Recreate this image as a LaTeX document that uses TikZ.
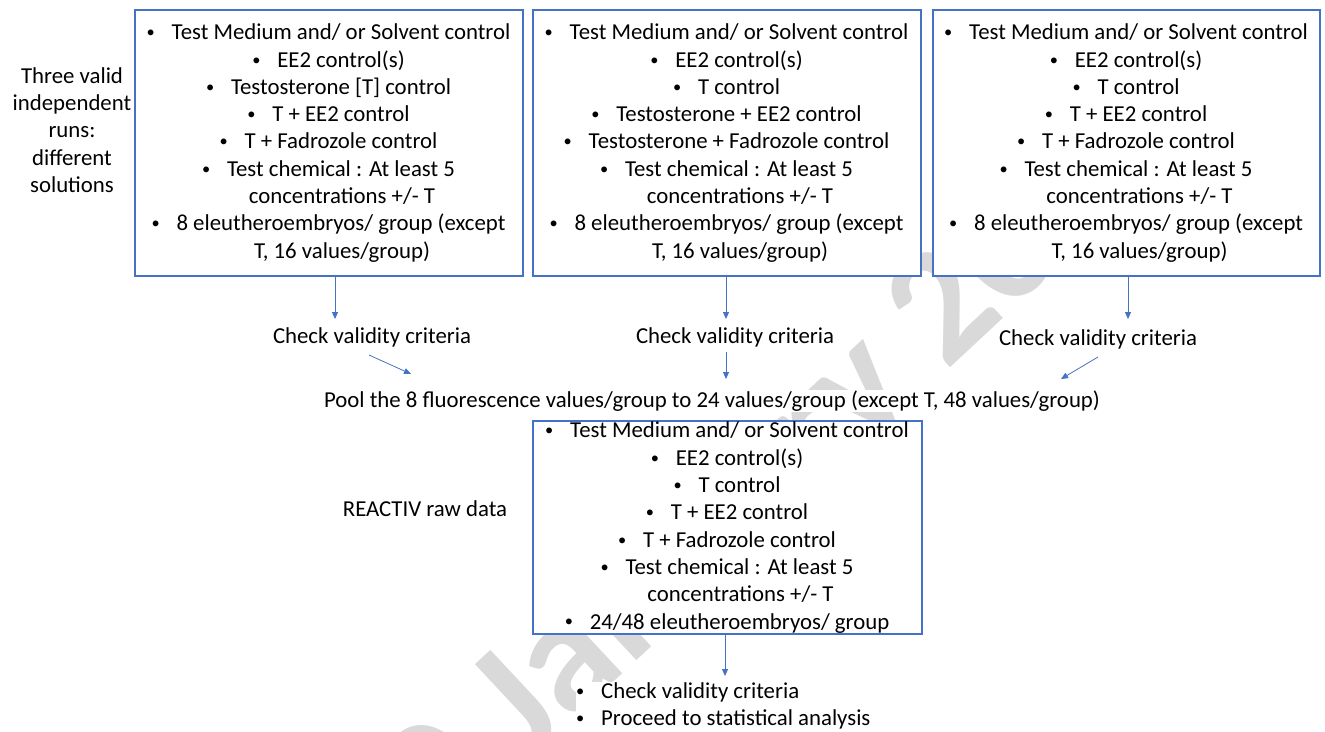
\documentclass[tikz,border=0pt]{standalone}
\usepackage{fontspec}
\setmainfont{Carlito}
\usetikzlibrary{arrows.meta}
\definecolor{boxblue}{RGB}{68,114,196}
\definecolor{wmgray}{RGB}{217,217,217}
\newcommand{\mainsz}{\fontsize{22.8bp}{27.3bp}\selectfont}
\newcommand{\bl}[1]{\makebox[24bp][l]{\hspace{-1bp}\raisebox{0.09em}{\scalebox{0.72}{\textbullet}}}#1}
\newcommand{\ct}[1]{\hspace*{26bp}#1}
\tikzset{
  runbox/.style={draw=boxblue, line width=1.2bp, fill=white, inner sep=0pt, align=center, font=\mainsz},
  conn/.style={draw=boxblue, line width=0.8bp, -{Triangle[length=7bp,width=6bp]}},
  lbl/.style={fill=white, inner sep=1bp, font=\mainsz, align=center},
  wmark/.style={text=wmgray, font=\bfseries\fontsize{165bp}{165bp}\selectfont, inner sep=0pt, rotate=43, anchor=base west}
}
\begin{document}
\begin{tikzpicture}[x=1bp,y=-1bp]
\useasboundingbox (0,0) rectangle (1325,731);
\clip (0,0) rectangle (1325,731);
% watermark
\node[wmark] (wm) at (380,900) {30 January 2020};
% top boxes
\node[runbox, minimum width=388bp, minimum height=266bp] (box1) at (329,143) {%
\bl{Test Medium and/ or Solvent control}\\
\bl{EE2 control(s)}\\
\bl{Testosterone [T] control}\\
\bl{T + EE2 control}\\
\bl{T + Fadrozole control}\\
\bl{Test chemical : At least 5}\\
\ct{concentrations +/- T}\\
\bl{8 eleutheroembryos/ group (except}\\
\ct{T, 16 values/group)}};
\node[runbox, minimum width=388bp, minimum height=266bp] (box2) at (727,143) {%
\bl{Test Medium and/ or Solvent control}\\
\bl{EE2 control(s)}\\
\bl{T control}\\
\bl{Testosterone + EE2 control}\\
\bl{Testosterone + Fadrozole control}\\
\bl{Test chemical : At least 5}\\
\ct{concentrations +/- T}\\
\bl{8 eleutheroembryos/ group (except}\\
\ct{T, 16 values/group)}};
\node[runbox, minimum width=387bp, minimum height=266bp] (box3) at (1126.5,143) {%
\bl{Test Medium and/ or Solvent control}\\
\bl{EE2 control(s)}\\
\bl{T control}\\
\bl{T + EE2 control}\\
\bl{T + Fadrozole control}\\
\bl{Test chemical : At least 5}\\
\ct{concentrations +/- T}\\
\bl{8 eleutheroembryos/ group (except}\\
\ct{T, 16 values/group)}};
% left label
\node[lbl] (runs) at (72,130) {Three valid\\independent\\runs:\\different\\solutions};
% check nodes
\node[lbl] (check1) at (372,337) {Check validity criteria};
\node[lbl] (check2) at (735,337) {Check validity criteria};
\node[lbl] (check3) at (1098,339) {Check validity criteria};
% pool
\node[lbl] (pool) at (712,401) {Pool the 8 fluorescence values/group to 24 values/group (except T, 48 values/group)};
% bottom box
\node[runbox, minimum width=389bp, minimum height=213bp] (box4) at (727.5,527.5) {%
\bl{Test Medium and/ or Solvent control}\\
\bl{EE2 control(s)}\\
\bl{T control}\\
\bl{T + EE2 control}\\
\bl{T + Fadrozole control}\\
\bl{Test chemical : At least 5}\\
\ct{concentrations +/- T}\\
\bl{24/48 eleutheroembryos/ group}};
\node[lbl] (raw) at (425,509) {REACTIV raw data};
\node[lbl, anchor=west, align=left] (final) at (576,706) {\bl{Check validity criteria}\\\bl{Proceed to statistical analysis}};
% connector end points
\coordinate (a1) at (335,319);
\coordinate (a2) at (726,319);
\coordinate (a3) at (1128,319);
\coordinate (b1s) at (369,355);
\coordinate (b1e) at (411,374);
\coordinate (b2s) at (726,352);
\coordinate (b2e) at (726,379);
\coordinate (b3s) at (1098,357);
\coordinate (b3e) at (1061,379);
\coordinate (c4) at (725,676);
% connectors
\draw[conn] (box1.south -| a1) -- (a1);
\draw[conn] (box2.south -| a2) -- (a2);
\draw[conn] (box3.south -| a3) -- (a3);
\draw[conn] (b1s) -- (b1e);
\draw[conn] (b2s) -- (b2e);
\draw[conn] (b3s) -- (b3e);
\draw[conn] (box4.south -| c4) -- (c4);
\end{tikzpicture}
\end{document}
